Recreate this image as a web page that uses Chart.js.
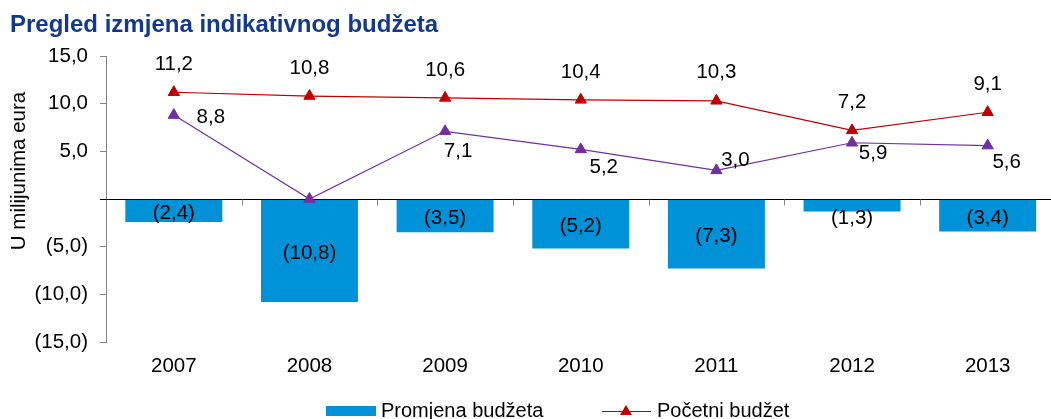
<!DOCTYPE html>
<html>
<head>
<meta charset="utf-8">
<script src="https://cdn.jsdelivr.net/npm/chart.js@4/dist/chart.umd.min.js"></script>
<style>
  html, body { margin: 0; padding: 0; background: #fff; overflow: hidden; }
  #c { display: block; }
</style>
</head>
<body>
<canvas id="c" width="1063" height="419" style="width:1063px;height:419px"></canvas>
<script>
// ---- data ----
const categories = ['2007', '2008', '2009', '2010', '2011', '2012', '2013'];
const promjenaBudzeta = [-2.4, -10.8, -3.5, -5.2, -7.3, -1.3, -3.4];
const pocetniBudzet = [11.2, 10.8, 10.6, 10.4, 10.3, 7.2, 9.1];
const izmijenjeniBudzet = [8.8, 0.0, 7.1, 5.2, 3.0, 5.9, 5.6];
const yTicks = [-15, -10, -5, 0, 5, 10, 15];
const seriesNames = ['Promjena budžeta', 'Početni budžet', 'Izmijenjeni budžet'];
const chartTitle = 'Pregled izmjena indikativnog budžeta';
const yAxisTitle = 'U milijunima eura';

const FONT = '"Liberation Sans", Arial, sans-serif';
const BLUE = '#0092D8';
const RED = '#C00000';
const PURPLE = '#7030A0';
const AXIS = '#868686';

function fmt(v) {
  const s = Math.abs(v).toFixed(1).replace('.', ',');
  return v < 0 ? '(' + s + ')' : s;
}

// label offsets for the purple series (dx, dy in px)
const purpleLabelOffsets = [[37, 2], [0, 0], [13, 20], [23, 18], [19, -10], [21, 11], [19, 17]];

const decorPlugin = {
  id: 'decor',
  afterDatasetDraw(chart, args) {
    if (args.index !== 0) return;
    const ctx = chart.ctx, x = chart.scales.x, y = chart.scales.y;
    const z = Math.round(y.getPixelForValue(0)) + 0.5;
    ctx.save();
    ctx.strokeStyle = '#000';
    ctx.lineWidth = 1;
    ctx.beginPath();
    ctx.moveTo(chart.chartArea.left - 6, z);
    ctx.lineTo(chart.chartArea.right, z);
    ctx.stroke();
    ctx.strokeStyle = AXIS;
    ctx.beginPath();
    for (let i = 0; i < categories.length - 1; i++) {
      const px = Math.round(x.getPixelForValue(i + 0.5)) + 0.5;
      ctx.moveTo(px, z);
      ctx.lineTo(px, z + 6);
    }
    ctx.stroke();
    ctx.restore();
  },
  afterDatasetsDraw(chart) {
    const ctx = chart.ctx;
    ctx.save();
    ctx.font = '20.5px ' + FONT;
    ctx.fillStyle = '#000';
    ctx.textAlign = 'center';
    ctx.textBaseline = 'middle';
    // bars
    chart.getDatasetMeta(0).data.forEach((el, i) => {
      const v = promjenaBudzeta[i];
      const h = Math.abs(el.y - el.base);
      const ty = h < 16 ? el.y + 7 : (el.y + el.base) / 2 + 2.5;
      ctx.fillText(fmt(v), el.x, ty);
    });
    // red line
    chart.getDatasetMeta(1).data.forEach((el, i) => {
      ctx.fillText(fmt(pocetniBudzet[i]), el.x, el.y - 28);
    });
    // purple line
    chart.getDatasetMeta(2).data.forEach((el, i) => {
      const v = izmijenjeniBudzet[i];
      if (v === 0) return;
      const o = purpleLabelOffsets[i];
      ctx.fillText(fmt(v), el.x + o[0], el.y + o[1]);
    });
    ctx.restore();
  },
  afterDraw(chart) {
    const ctx = chart.ctx;
    ctx.save();
    // title
    ctx.font = 'bold 24px ' + FONT;
    ctx.fillStyle = '#12398E';
    ctx.textAlign = 'left';
    ctx.textBaseline = 'alphabetic';
    ctx.fillText(chartTitle, 10, 32);
    // y axis title
    ctx.font = '20.5px ' + FONT;
    ctx.fillStyle = '#000';
    ctx.translate(19, 171);
    ctx.rotate(-Math.PI / 2);
    ctx.textAlign = 'center';
    ctx.textBaseline = 'middle';
    ctx.fillText(yAxisTitle, 0, 0);
    ctx.restore();
    // legend
    ctx.save();
    const ly = 411;
    ctx.font = '20px ' + FONT;
    ctx.textBaseline = 'middle';
    ctx.textAlign = 'left';
    ctx.fillStyle = chart.data.datasets[0].backgroundColor;
    ctx.fillRect(326, ly - 5, 50, 10);
    ctx.fillStyle = '#000';
    ctx.fillText(chart.data.datasets[0].label, 381, ly);
    ctx.strokeStyle = chart.data.datasets[1].borderColor;
    ctx.lineWidth = 1;
    ctx.beginPath();
    ctx.moveTo(602, ly + 0.5);
    ctx.lineTo(651, ly + 0.5);
    ctx.stroke();
    ctx.fillStyle = chart.data.datasets[1].pointBackgroundColor;
    ctx.beginPath();
    ctx.moveTo(626, ly - 6);
    ctx.lineTo(632, ly + 4);
    ctx.lineTo(620, ly + 4);
    ctx.closePath();
    ctx.fill();
    ctx.fillStyle = '#000';
    ctx.fillText(chart.data.datasets[1].label, 657, ly);
    ctx.restore();
  }
};

new Chart(document.getElementById('c'), {
  data: {
    labels: categories,
    datasets: [
      {
        type: 'bar', label: seriesNames[0], data: promjenaBudzeta,
        backgroundColor: BLUE, borderWidth: 0,
        categoryPercentage: 1.0, barPercentage: 0.715, order: 3
      },
      {
        type: 'line', label: seriesNames[1], data: pocetniBudzet,
        borderColor: RED, borderWidth: 1.2, pointStyle: 'triangle', pointRadius: 6.5,
        pointBackgroundColor: RED, pointBorderColor: RED, pointBorderWidth: 1,
        tension: 0, order: 1
      },
      {
        type: 'line', label: seriesNames[2], data: izmijenjeniBudzet,
        borderColor: PURPLE, borderWidth: 1.2, pointStyle: 'triangle', pointRadius: 6.5,
        pointBackgroundColor: PURPLE, pointBorderColor: PURPLE, pointBorderWidth: 1,
        tension: 0, order: 2
      }
    ]
  },
  options: {
    responsive: false,
    maintainAspectRatio: false,
    devicePixelRatio: 1,
    animation: false,
    events: [],
    layout: { padding: { top: 56, right: 4, left: 0, bottom: 0 } },
    plugins: { legend: { display: false }, title: { display: false }, tooltip: { enabled: false } },
    scales: {
      x: {
        type: 'category', offset: true,
        grid: { display: false, drawTicks: false },
        border: { display: false },
        ticks: { color: '#000', font: { family: FONT, size: 20.5 }, padding: 12, maxRotation: 0 },
        afterFit: (s) => { s.height = 77; }
      },
      y: {
        min: -15, max: 15,
        afterBuildTicks: (s) => { s.ticks = yTicks.map(v => ({ value: v })); },
        grid: { drawOnChartArea: false, drawTicks: true, tickLength: 6, tickColor: AXIS, color: AXIS },
        border: { display: true, color: AXIS, width: 1 },
        ticks: {
          color: '#000', font: { family: FONT, size: 20.5 }, padding: 12,
          callback: (v) => v === 0 ? '' : fmt(v)
        },
        afterFit: (s) => { s.width = 106; }
      }
    }
  },
  plugins: [decorPlugin]
});
</script>
</body>
</html>
